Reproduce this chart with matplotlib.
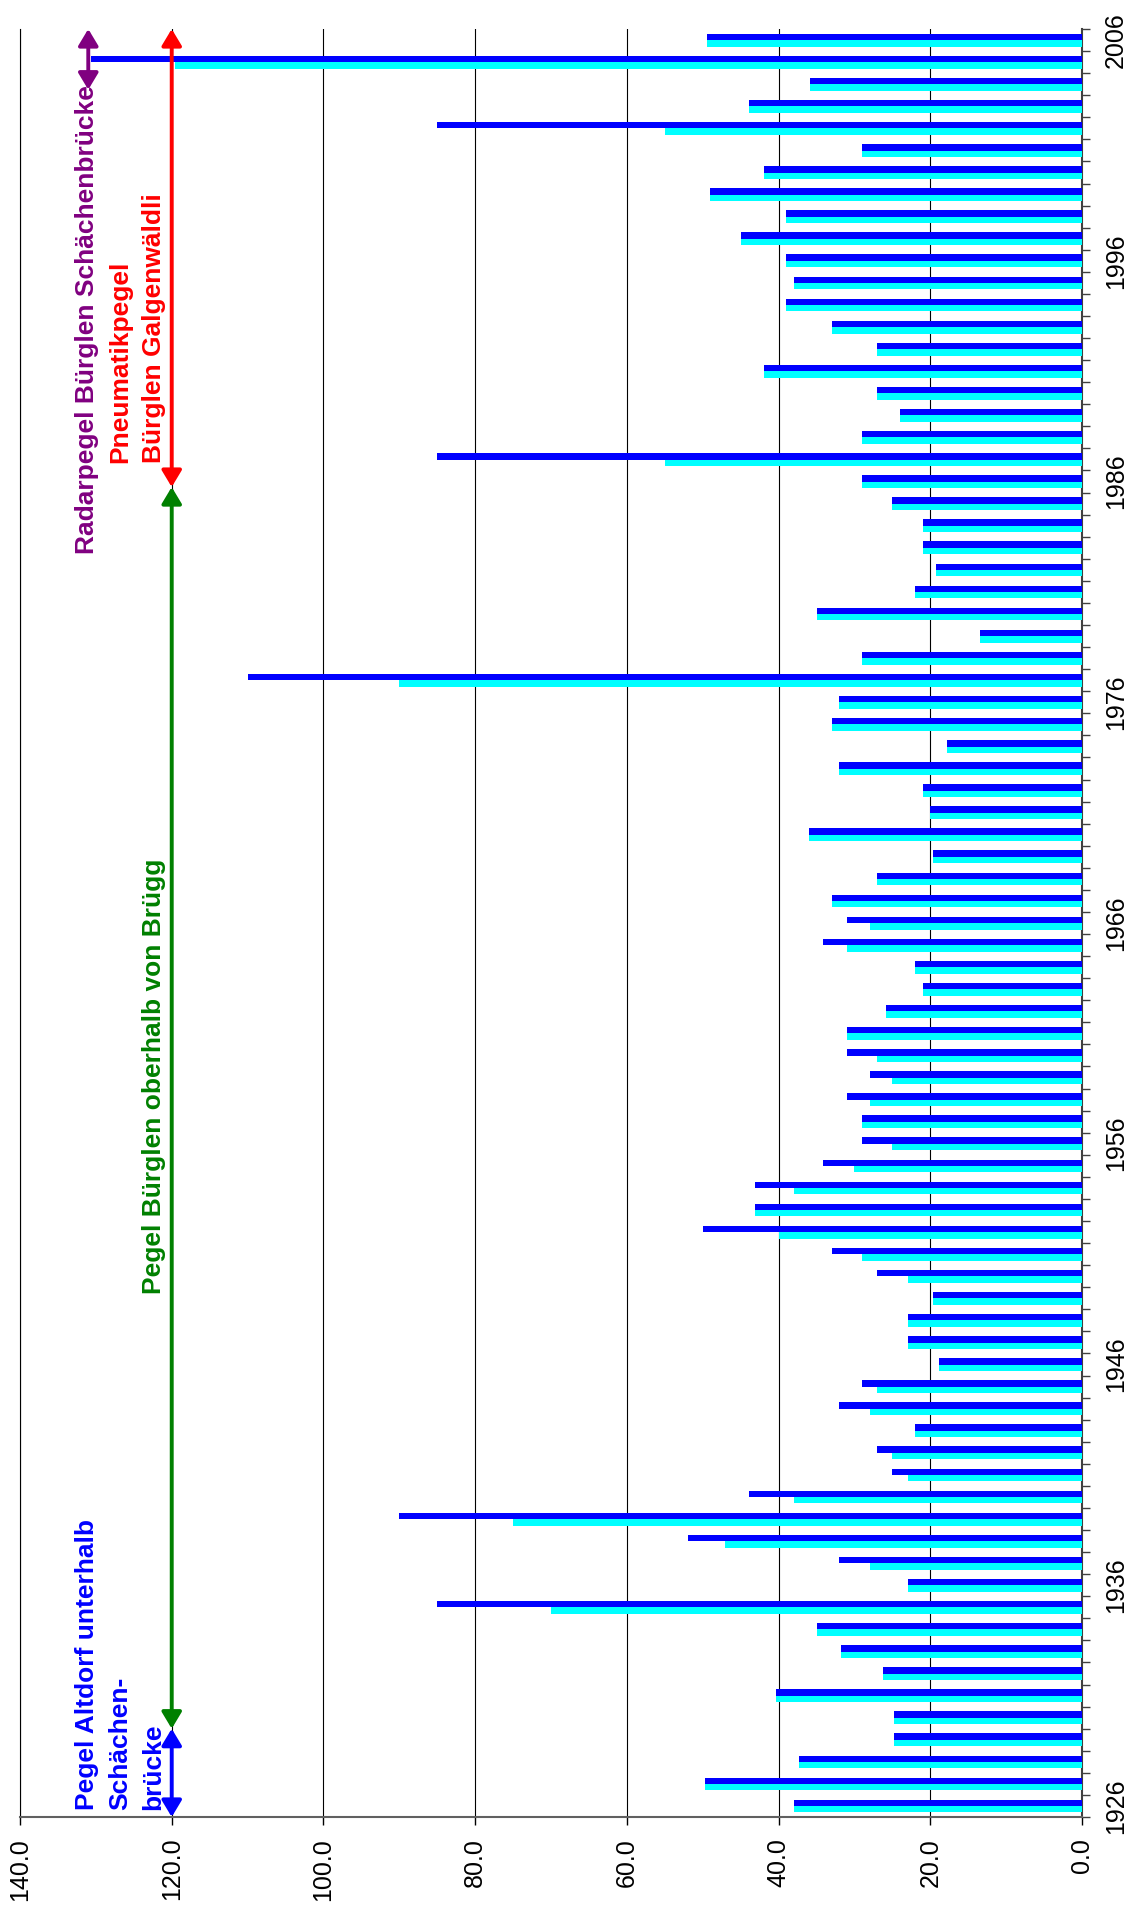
import matplotlib
matplotlib.use("Agg")
import matplotlib.pyplot as plt
import numpy as np

plt.rcParams['font.family'] = ['Liberation Sans', 'DejaVu Sans']

# Jahre (Kategorien) und Hochwasserabfluesse, von 1926 bis 2006
years = list(range(1926, 2007))
q_blue = [38.0, 49.7, 37.3, 24.8, 24.8, 40.4, 26.2, 31.8, 34.9, 85.0,
          23.0, 32.0, 52.0, 90.0, 43.9, 25.1, 27.0, 22.0, 32.0, 29.0,
          18.9, 23.0, 23.0, 19.6, 27.0, 33.0, 50.0, 43.1, 43.1, 34.1,
          29.0, 29.0, 31.0, 27.9, 31.0, 31.0, 25.9, 21.0, 22.0, 34.1,
          31.0, 33.0, 27.0, 19.6, 36.0, 20.0, 21.0, 32.0, 17.8, 33.0,
          32.0, 110.0, 29.0, 13.4, 34.9, 22.0, 19.2, 21.0, 21.0, 25.1,
          29.0, 85.0, 29.0, 24.0, 27.0, 41.9, 27.0, 33.0, 39.0, 38.0,
          39.0, 45.0, 39.0, 49.0, 41.9, 29.0, 85.0, 43.9, 35.8, 130.7,
          49.4]
q_cyan = [38.0, 49.7, 37.3, 24.8, 24.8, 40.4, 26.2, 31.8, 34.9, 70.0,
          23.0, 27.9, 47.0, 75.0, 38.0, 23.0, 25.1, 22.0, 27.9, 27.0,
          18.9, 23.0, 23.0, 19.6, 23.0, 29.0, 40.0, 43.1, 38.0, 30.0,
          25.1, 29.0, 27.9, 25.1, 27.0, 31.0, 25.9, 21.0, 22.0, 31.0,
          27.9, 33.0, 27.0, 19.6, 36.0, 20.0, 21.0, 32.0, 17.8, 33.0,
          32.0, 90.0, 29.0, 13.4, 34.9, 22.0, 19.2, 21.0, 21.0, 25.1,
          29.0, 55.0, 29.0, 24.0, 27.0, 41.9, 27.0, 33.0, 39.0, 38.0,
          39.0, 45.0, 39.0, 49.0, 41.9, 29.0, 55.0, 43.9, 35.8, 119.6,
          49.4]
year_labels = [1926, 1936, 1946, 1956, 1966, 1976, 1986, 1996, 2006]
value_ticks = [0, 20, 40, 60, 80, 100, 120, 140]

# Messstationen: (Text, Farbe, von Jahr, bis Jahr)
stations = [
    ('Pegel Altdorf unterhalb\nSchächen-\nbrücke', '#0000FF', 1925.5, 1929.5),
    ('Pegel Bürglen oberhalb von Brügg', '#008000', 1929.5, 1985.75),
    ('Pneumatikpegel\nBürglen Galgenwäldli', '#FF0000', 1985.75, 2006.5),
    ('Radarpegel Bürglen Schächenbrücke', '#800080', 2003.75, 2006.5),
]

fig = plt.figure(figsize=(11.36, 19.10), dpi=100)
ax = fig.add_axes([20/1136, 93/1910, 1062/1136, 1788/1910])

y = np.array(years)
ax.barh(y + 0.14, q_blue, height=0.29, color='#0000FF', zorder=3)
ax.barh(y - 0.15, q_cyan, height=0.29, color='#00FFFF', zorder=3)

ax.set_xlim(140, 0)
ax.set_ylim(1925.5, 2006.5)

ax.set_xticks(value_ticks)
ax.set_xticklabels(['%.1f' % v for v in value_ticks], rotation=90, fontsize=18)
ax.tick_params(axis='x', length=6, width=1, pad=9, direction='out')
ax.grid(axis='x', color='black', lw=0.8, zorder=0)
ax.set_axisbelow(True)

ax.yaxis.tick_right()
ax.set_yticks(year_labels)
ax.set_yticklabels([str(v) for v in year_labels], rotation=90, va='center', fontsize=18)
ax.set_yticks(np.arange(1925.5, 2007, 1), minor=True)
ax.tick_params(axis='y', which='major', length=0, pad=16)
ax.tick_params(axis='y', which='minor', length=6, width=1, color='#404040')

ax.spines['top'].set_visible(False)
ax.spines['left'].set_color('black')
ax.spines['left'].set_linewidth(0.8)
ax.spines['right'].set_color('#404040')
ax.spines['right'].set_linewidth(1.5)
ax.spines['bottom'].set_color('#606060')
ax.spines['bottom'].set_linewidth(1.5)

# Pfeile fuer die Messperioden
arrow_x = [120, 120, 120, 131]
for (txt, col, y0, y1), ax_x in zip(stations, arrow_x):
    ax.annotate('', xy=(ax_x, y0), xytext=(ax_x, y1),
                arrowprops=dict(arrowstyle='<|-|>,head_length=0.5,head_width=0.3',
                                color=col, lw=2.8, shrinkA=0, shrinkB=0,
                                mutation_scale=20), zorder=5)

# Beschriftungen (x in Abflusswerten, y in Jahren)
text_pos = [(126.8, 1925.8), (122.4, 1949.2), (124.6, 1986.85), (131.2, 1982.7)]
for (txt, col, y0, y1), (tx, ty) in zip(stations, text_pos):
    ax.text(tx, ty, txt, color=col, rotation=90, fontsize=19, fontweight='bold',
            ha='center', va='bottom', multialignment='left', linespacing=1.5,
            zorder=6)

fig.savefig('out.png', dpi=100)
